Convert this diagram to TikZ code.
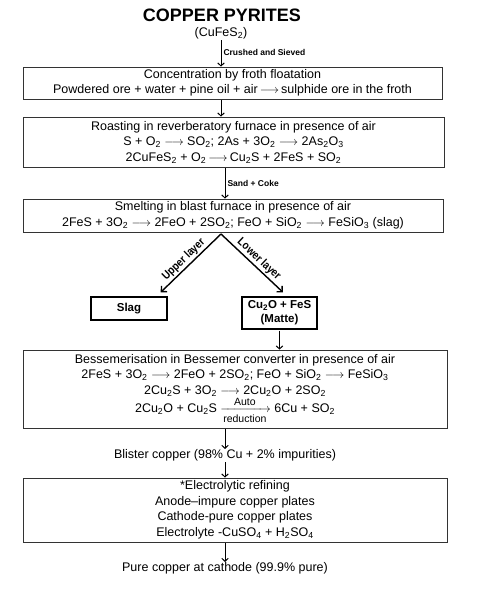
\documentclass[tikz,border=0pt]{standalone}
\usepackage{amsmath}
\usepackage{fontspec}
\setmainfont{Liberation Sans}
\usetikzlibrary{calc,positioning,arrows.meta}

\newcommand{\sub}[1]{\textsubscript{#1}}
\newcommand{\ra}{$\longrightarrow$}
\newcommand{\arlabel}[1]{\text{\fontsize{10.5}{11}\selectfont #1}}

\begin{document}
\begin{tikzpicture}[
        x=1pt,y=-1pt,
        every node/.style={font=\fontsize{12.5}{15.5}\selectfont,inner sep=0pt},
        stage/.style={draw=black!80,line width=0.8pt,align=center},
        layer/.style={draw,line width=1.4pt,align=center,font=\fontsize{11.5}{14}\selectfont\bfseries},
        flow/.style={line width=1pt,shorten <=1pt,-{Straight Barb[length=3pt,width=6.5pt]}},
        split/.style={line width=1.4pt,-{Straight Barb[length=4pt,width=8pt]}},
        note/.style={font=\fontsize{8.5}{10}\selectfont\bfseries},
        tag/.style={font=\fontsize{11.5}{12}\selectfont\bfseries,xscale=0.86}
    ]
    \useasboundingbox (0,0) rectangle (485,590);

    % ore and the stages
    \node (title) at (222,15) {\fontsize{18}{20}\selectfont\bfseries COPPER PYRITES};
    \node (ore)   at (221,33) {(CuFeS\sub{2})};

    \node (conc) [stage,minimum width=419pt,minimum height=32pt] at (232.5,83)
        {Concentration by froth floatation\\
         Powdered ore + water + pine oil + air\,\ra\,sulphide ore in the froth};
    \node (roast) [stage,minimum width=421pt,minimum height=50pt] at (233.5,142)
        {Roasting in reverberatory furnace in presence of air\\
         S + O\sub{2} \ra\ SO\sub{2}; 2As + 3O\sub{2} \ra\ 2As\sub{2}O\sub{3}\\
         2CuFeS\sub{2} + O\sub{2}\,\ra\,Cu\sub{2}S + 2FeS + SO\sub{2}};
    \node (smelt) [stage,minimum width=420pt,minimum height=33pt] at (233,215.5)
        {Smelting in blast furnace in presence of air\\
         2FeS + 3O\sub{2} \ra\ 2FeO + 2SO\sub{2}; FeO + SiO\sub{2} \ra\ FeSiO\sub{3} (slag)};

    % the two layers
    \coordinate (fork) at (221,234);
    \node (slag)  [layer,minimum width=76pt,minimum height=23pt] at (129,308.5) {Slag};
    \node (matte) [layer,minimum width=75pt,minimum height=32pt] at (279.5,313)
        {Cu\sub{2}O + FeS\\(Matte)};

    \node (bess) [stage,minimum width=424pt,minimum height=78pt] at (235,389)
        {Bessemerisation in Bessemer converter in presence of air\\
         2FeS + 3O\sub{2} \ra\ 2FeO + 2SO\sub{2}; FeO + SiO\sub{2} \ra\ FeSiO\sub{3}\\
         2Cu\sub{2}S + 3O\sub{2} \ra\ 2Cu\sub{2}O + 2SO\sub{2}\\
         2Cu\sub{2}O + Cu\sub{2}S $\xrightarrow[\arlabel{reduction}]{\arlabel{Auto}}$ 6Cu + SO\sub{2}};
    \node (blister) at (225,455) {Blister copper (98\% Cu + 2\% impurities)};
    \node (refine) [stage,minimum width=424pt,minimum height=64pt] at (235,510)
        {*Electrolytic refining\\
         Anode--impure copper plates\\
         Cathode-pure copper plates\\
         Electrolyte -CuSO\sub{4} + H\sub{2}SO\sub{4}};
    \node (pure) at (225,568) {Pure copper at cathode (99.9\% pure)};

    % connectors
    \draw [flow] (ore) -- node (crush) [note,right=2pt] {Crushed and Sieved} (conc.north -| ore);
    \draw [flow] (conc.south -| ore) -- (roast.north -| ore);
    \draw [flow] (roast.south -| blister) -- node (coke) [note,right=2pt] {Sand + Coke} (smelt.north -| blister);
    \draw [split] (fork) -- node (upper) [tag,sloped,above=1.5pt,pos=0.53] {Upper layer} ($(slag.north east)+(-7,-4)$);
    \draw [split] (fork) -- node (lower) [tag,sloped,above=1.5pt,pos=0.53] {Lower layer} ($(matte.north)+(3.5,-4)$);
    \draw [flow] (matte) -- (bess.north -| matte);
    \draw [flow] (bess.south -| blister) -- (blister);
    \draw [flow] (blister) -- (refine.north -| blister);
    \draw [flow] (refine.south -| blister) -- (pure);
\end{tikzpicture}
\end{document}
